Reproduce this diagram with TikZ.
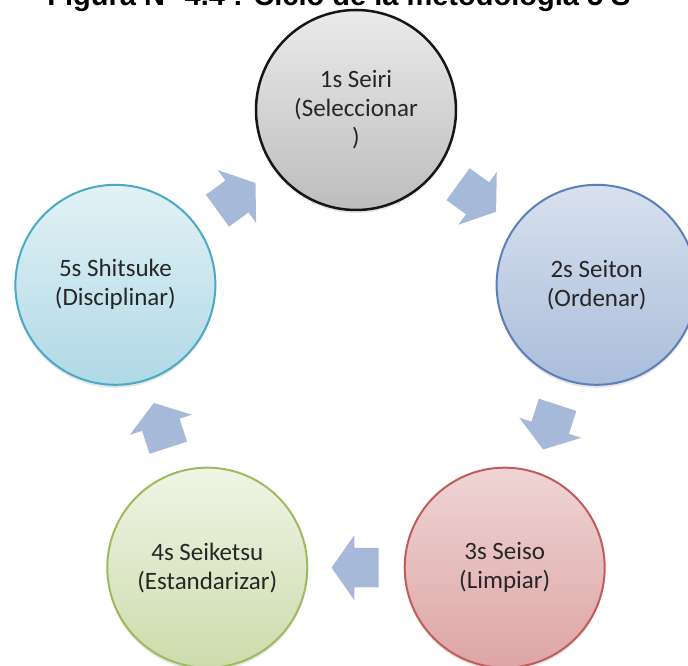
\documentclass[tikz,border=0pt]{standalone}
\usepackage{fontspec}
\setmainfont{Carlito}
\newfontfamily\titulofont{Liberation Sans}
\usetikzlibrary{shapes.arrows, calc, shadows}
\definecolor{grisborde}{HTML}{151515}
\definecolor{azulborde}{HTML}{5B80B9}
\definecolor{rojoborde}{HTML}{C25B5B}
\definecolor{verdeborde}{HTML}{9DBB5E}
\definecolor{cianborde}{HTML}{4AA9C5}
\definecolor{flechaazul}{HTML}{A7B9D9}
\tikzset{
	x=1pt, y=1pt, % one unit is one point
	ese/.style={circle, minimum size=200pt, inner sep=0pt, line width=2pt, align=center, text=black!85, font=\fontsize{25}{29}\selectfont, drop shadow={shadow xshift=0pt, shadow yshift=-3pt, opacity=0.2}}, % every circle of the cycle
	gris/.style={ese, draw=grisborde, line width=2.5pt, top color=black!8, bottom color=black!26},
	azul/.style={ese, draw=azulborde, top color=azulborde!24, bottom color=azulborde!52},
	rojo/.style={ese, draw=rojoborde, top color=rojoborde!26, bottom color=rojoborde!55},
	verde/.style={ese, draw=verdeborde, top color=verdeborde!16, bottom color=verdeborde!52},
	cian/.style={ese, draw=cianborde, top color=cianborde!16, bottom color=cianborde!44},
	flecha/.style={single arrow, draw=none, fill=flechaazul, minimum height=47pt, inner xsep=0pt, inner ysep=19.5pt, single arrow head extend=13pt, single arrow tip angle=110}, % block arrows between the circles
}
\begin{document}
\begin{tikzpicture}
	\useasboundingbox (-356,-303) rectangle (332,363);
	\clip (-356,-303) rectangle (332,363);
	\node[font=\titulofont\bfseries\fontsize{29}{34}\selectfont, anchor=base] (titulo) at (-17,357) {Figura N° 4.4 : Ciclo de la metodología 5 S};
	% the five circles on a pentagon
	\node[gris] (s1) at (90:253) {1s Seiri\\(Seleccionar\\)};
	\node[azul] (s2) at (18:253) {2s Seiton\\(Ordenar)};
	\node[rojo] (s3) at (-54:253) {3s Seiso\\(Limpiar)};
	\node[verde] (s4) at (-126:253) {4s Seiketsu\\(Estandarizar)};
	\node[cian] (s5) at (162:253) {5s Shitsuke\\(Disciplinar)};
	% arrows
	\node[flecha, rotate=-36] (f12) at ($(s1)!0.48!(s2)$) {};
	\node[flecha, rotate=-108] (f23) at ($(s2)!0.48!(s3)$) {};
	\node[flecha, rotate=180] (f34) at ($(s3)!0.48!(s4)$) {};
	\node[flecha, rotate=108] (f45) at ($(s4)!0.48!(s5)$) {};
	\node[flecha, rotate=36] (f51) at ($(s5)!0.48!(s1)$) {};
\end{tikzpicture}
\end{document}
